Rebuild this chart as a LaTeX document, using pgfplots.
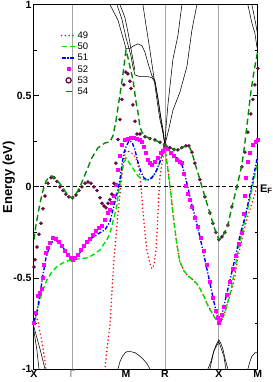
\documentclass[border=0pt]{standalone}
\usepackage{fontspec}
\setmainfont{Liberation Sans}
\usepackage{pgfplots}
\pgfplotsset{compat=1.18}
\definecolor{c49}{RGB}{255,0,0}
\definecolor{c50}{RGB}{0,225,0}
\definecolor{c51}{RGB}{0,0,255}
\definecolor{c52}{RGB}{255,0,255}
\definecolor{c53}{RGB}{103,7,72}
\definecolor{c54}{RGB}{0,139,0}
\definecolor{vline}{RGB}{165,165,165}
\definecolor{gamlab}{RGB}{120,120,120}
\begin{document}
\begin{tikzpicture}
\begin{axis}[name=ax, scale only axis, width=224pt, height=364.5pt,
 xmin=34, xmax=258, ymin=-1, ymax=1,
 axis line style={line width=1pt},
 xtick={34,72.5,126,165,219,258},
 xticklabels={\textbf{X},\textcolor{gamlab}{Γ},\textbf{M},\textbf{R},\textbf{X},\textbf{M}},
 x tick style={draw=none},
 ytick={-1,-0.5,0,0.5,1},
 yticklabels={\textbf{-1},\textbf{-0.5},\textbf{0},\textbf{0.5},\textbf{1}},
 minor ytick={-0.75,-0.25,0.25,0.75},
 tick align=inside, major tick length=5pt, minor tick length=3pt,
 y tick style={line width=0.7pt, black},
 ticklabel style={font=\fontsize{10.5}{12}\selectfont},
 xticklabel style={yshift=2pt},
 yticklabel style={xshift=1pt},
 ylabel={\textbf{Energy (eV)}},
 ylabel style={at={(axis description cs:-0.112,0.526)}, anchor=center, font=\fontsize{13}{15}\selectfont},
 legend style={at={(0.105,0.935)}, anchor=north west, draw=none, fill=none,
   font=\fontsize{9.5}{10}\selectfont, row sep=1.2pt,
   nodes={inner sep=1pt, text height=7pt, text depth=1pt}},
 legend cell align=left,
 legend image code/.code={\draw[mark repeat=2,mark phase=2,#1] plot coordinates {(0cm,0cm) (0.25cm,0cm) (0.5cm,0cm)};},
 clip mode=individual,
]
% k-path separators and Fermi level
\draw[vline, line width=0.8pt] (axis cs:72.5,-1) -- (axis cs:72.5,1);
\draw[vline, line width=0.8pt] (axis cs:165,-1) -- (axis cs:165,1);
\draw[vline, line width=0.8pt] (axis cs:219,-1) -- (axis cs:219,1);
\draw[black, line width=0.8pt, dash pattern=on 4pt off 2.5pt] (axis cs:34,0) -- (axis cs:258,0);

% other bands (black)
\addplot[black, line width=0.55pt, forget plot] coordinates {(110,1.0) (118,0.916) (124,0.80) (126,0.76) (130,0.76) (134,0.775) (138,0.785) (142,0.775) (145,0.74) (148,0.68) (152,0.61) (155,0.585) (158,0.49) (161,0.38) (163,0.32) (165,0.23)};
\addplot[black, line width=0.55pt, forget plot] coordinates {(117,1.0) (122,0.92) (126,0.82) (129,0.76) (131,0.72) (133,0.66) (135,0.615) (140,0.605) (148,0.605) (152,0.60) (155,0.575) (158,0.48) (161,0.37) (163,0.30) (165,0.23)};
\addplot[black, line width=0.55pt, forget plot] coordinates {(120,1.0) (125,0.93) (128,0.85) (131,0.76) (133,0.70) (135,0.64)};
\addplot[black, line width=0.55pt, forget plot] coordinates {(143,1.0) (146,0.89) (150,0.75) (154,0.60) (157,0.48) (160,0.37) (163,0.30) (165,0.23)};
\addplot[black, line width=0.55pt, forget plot] coordinates {(182,1.0) (178,0.83) (173,0.70) (170,0.55) (168,0.45) (166,0.32) (165,0.23)};
\addplot[black, line width=0.55pt, forget plot] coordinates {(197,1.0) (192,0.86) (187,0.66) (180,0.52) (173,0.42) (169,0.32) (165,0.23)};
\addplot[black, line width=0.55pt, forget plot] coordinates {(248,1.0) (252,0.90) (255,0.845) (257,0.77) (258,0.75)};
\addplot[black, line width=0.55pt, forget plot] coordinates {(252,1.0) (255,0.92) (257,0.86) (258,0.83)};
\addplot[black, line width=0.55pt, forget plot] coordinates {(34,-0.77) (40,-0.89) (45,-1.0)};
\addplot[black, line width=0.55pt, forget plot] coordinates {(34,-0.79) (37,-0.90) (39,-1.0)};
\addplot[black, line width=0.55pt, forget plot] coordinates {(118,-1.0) (120,-0.96) (122,-0.935) (125,-0.912) (127,-0.905) (131,-0.905) (135,-0.91) (139,-0.925) (143,-0.945) (147,-0.97) (150,-1.0)};
\addplot[black, line width=0.55pt, forget plot] coordinates {(208,-1.0) (211,-0.96) (213,-0.92) (216,-0.87) (219,-0.84) (221,-0.86) (223,-0.89) (225,-0.94) (228,-1.0)};
\addplot[black, line width=0.55pt, forget plot] coordinates {(210,-1.0) (214,-0.90) (219,-0.85) (224,-0.93) (226,-1.0)};
\addplot[black, line width=0.55pt, forget plot] coordinates {(248,-1.0) (250,-0.96) (252,-0.93) (255,-0.912) (258,-0.905)};

% band 49
\addplot[c49, line width=1.7pt, line cap=round, dash pattern=on 0pt off 3.8pt] coordinates {
(34,-0.69) (36,-0.71) (38,-0.74) (40,-0.80) (42,-0.85) (44,-0.92) (46,-1.0) (50,-1.15) (75,-1.3) (100,-1.15) (105,-1.0) (107,-0.89) (110,-0.76) (112,-0.58) (114,-0.39) (116,-0.28) (118,-0.15) (120,-0.04) (122,0.07) (124,0.15) (126,0.20) (131,0.19) (136,0.16) (139,0.10) (141,0.01) (143,-0.13) (145,-0.25) (147,-0.35) (150,-0.42) (152,-0.45) (154,-0.43) (156,-0.35) (157,-0.26) (158,-0.15) (159,-0.04) (160,0.05) (162,0.13) (165,0.22) (168,0.10) (171,-0.04) (174,-0.19) (177,-0.32) (180,-0.41) (184,-0.46) (188,-0.49) (193,-0.51) (198,-0.54) (203,-0.59) (208,-0.65) (213,-0.70) (217,-0.73) (219,-0.75) (223,-0.72) (227,-0.65) (232,-0.565) (235,-0.49) (238,-0.39) (242,-0.29) (245,-0.22) (248,-0.16) (252,-0.09) (256,-0.02) (258,0.02)};
\addlegendentry{49}
% band 50
\addplot[c50, line width=1.4pt, dash pattern=on 5pt off 3pt] coordinates {
(34,-0.74) (36,-0.71) (38,-0.66) (40,-0.62) (43,-0.565) (47,-0.51) (52,-0.466) (58,-0.433) (65,-0.411) (72.5,-0.40) (80,-0.395) (88,-0.389) (95,-0.367) (100,-0.346) (104,-0.313) (108,-0.28) (111,-0.236) (114,-0.170) (117,-0.099) (119,-0.016) (121,0.049) (123,0.110) (126,0.159) (130,0.126) (134,0.093) (138,0.060) (142,0.044) (146,0.038) (150,0.044) (154,0.066) (158,0.104) (162,0.170) (165,0.22) (168,0.093) (171,-0.044) (174,-0.192) (177,-0.318) (180,-0.411) (184,-0.461) (188,-0.488) (193,-0.510) (198,-0.538) (203,-0.587) (208,-0.653) (213,-0.702) (217,-0.735) (219,-0.752) (222,-0.730) (225,-0.691) (228,-0.631) (231,-0.565) (234,-0.483) (237,-0.389) (240,-0.302) (244,-0.208) (248,-0.115) (252,-0.016) (255,0.066) (258,0.148)};
\addlegendentry{50}
% band 51
\addplot[c51, line width=1.4pt, dash pattern=on 4pt off 1.8pt on 1.2pt off 1.8pt] coordinates {
(34,-0.741) (37,-0.686) (40,-0.592) (43,-0.483) (46,-0.389) (50,-0.318) (54,-0.291) (60,-0.307) (66,-0.357) (72.5,-0.40) (78,-0.378) (85,-0.318) (92,-0.280) (100,-0.252) (105,-0.236) (110,-0.192) (113,-0.126) (116,-0.060) (118,-0.016) (120,0.038) (122,0.121) (124,0.187) (126,0.219) (129,0.252) (132,0.247) (135,0.203) (138,0.137) (141,0.082) (144,0.049) (148,0.038) (152,0.049) (156,0.082) (160,0.137) (163,0.192) (165,0.225) (170,0.192) (175,0.170) (179,0.148) (182,0.121) (185,0.066) (188,-0.005) (192,-0.099) (196,-0.181) (200,-0.274) (205,-0.400) (210,-0.527) (214,-0.631) (217,-0.702) (219,-0.741) (222,-0.702) (225,-0.631) (229,-0.538) (233,-0.444) (237,-0.346) (241,-0.247) (245,-0.170) (249,-0.071) (252,0.011) (255,0.093) (258,0.176)};
\addlegendentry{51}
% band 52
\addplot[c52, only marks, mark=square*, mark size=1.5pt] coordinates {
(34,-0.746) (36,-0.69) (38,-0.60) (40,-0.58) (42,-0.56) (43,-0.50) (44,-0.43) (46,-0.36) (48,-0.335) (50,-0.307) (53,-0.280) (56,-0.285) (59,-0.30) (62,-0.324) (65,-0.351) (68,-0.373) (70.5,-0.389) (72.5,-0.40) (75,-0.39) (78,-0.373) (81,-0.346) (84,-0.324) (87,-0.302) (90,-0.285) (93,-0.263) (96,-0.241) (99,-0.225) (102,-0.214) (105,-0.181) (108,-0.143) (110,-0.126) (112,-0.088) (114,-0.05) (116,0.011) (118,0.093) (120,0.170) (122,0.230) (125,0.258) (128,0.263) (131,0.269) (134,0.269) (137,0.263) (140,0.258) (142,0.247) (144,0.22) (146,0.19) (148,0.15) (150,0.13) (152,0.12) (155,0.14) (158,0.16) (161,0.185) (163,0.20) (165,0.22) (168,0.21) (171,0.19) (174,0.17) (177,0.148) (180,0.14) (182,0.13) (184,0.07) (186,0.005) (188,-0.04) (190,-0.07) (192,-0.11) (195,-0.17) (198,-0.22) (201,-0.28) (204,-0.35) (207,-0.43) (210,-0.52) (213,-0.61) (216,-0.68) (218,-0.72) (219,-0.745) (220,-0.73) (222,-0.70) (224,-0.66) (227,-0.59) (230,-0.52) (233,-0.45) (236,-0.38) (239,-0.31) (242,-0.25) (244,-0.15) (245,-0.05) (246,0.05) (248,0.137) (250,0.19) (253,0.23) (256,0.25) (258,0.26)};
\addlegendentry{52}
% band 53
\addplot[c53, only marks, mark=*, mark size=1.6pt, legend image code/.code={\draw[c53, line width=1.3pt, fill=white] (0.25cm,0cm) circle (2.6pt);}] coordinates {
(34,-0.44) (35,-0.40) (37,-0.33) (39,-0.26) (41,-0.20) (43,-0.12) (45,-0.05) (48,0.02) (51,0.05) (54,0.05) (57,0.03) (60,0.00) (63,-0.02) (66,-0.04) (69,-0.055) (72.5,-0.06) (76,-0.045) (79,-0.02) (82,0.00) (85,0.02) (88,0.027) (91,0.02) (94,0.00) (97,-0.02) (100,-0.06) (102,-0.09) (104,-0.105) (106,-0.115) (108,-0.09) (110,-0.07) (112,-0.04) (114,0.02) (116,0.13) (118,0.26) (120,0.37) (122,0.48) (124,0.56) (126,0.63) (128,0.62) (130,0.58) (131,0.54) (133,0.45) (135,0.36) (137,0.29) (140,0.29) (145,0.275) (150,0.265) (155,0.258) (160,0.245) (165,0.23) (170,0.215) (174,0.205) (178,0.203) (182,0.215) (186,0.225) (189,0.225) (192,0.19) (195,0.13) (200,0.04) (205,-0.055) (210,-0.143) (213,-0.2) (216,-0.25) (219,-0.29) (222,-0.275) (225,-0.25) (228,-0.21) (232,-0.11) (237,0.0) (242,0.11) (245,0.19) (248,0.30) (251,0.40) (253,0.48) (255,0.56) (258,0.65)};
\addlegendentry{53}
% band 54
\addplot[c54, line width=1.4pt, dash pattern=on 6pt off 3.5pt, legend image code/.code={\draw[c54, line width=1.6pt] (0.15cm,0cm) -- (0.45cm,0cm);}] coordinates {
(34,-0.29) (36,-0.21) (38,-0.15) (40,-0.09) (43,-0.02) (46,0.03) (49,0.055) (52,0.06) (55,0.05) (58,0.03) (61,0.01) (64,-0.015) (67,-0.04) (70,-0.055) (72.5,-0.06) (75,-0.05) (78,-0.02) (80,0.0) (85,0.066) (92,0.16) (98,0.214) (105,0.241) (110,0.247) (113,0.28) (116,0.36) (119,0.47) (122,0.58) (124,0.66) (126,0.75) (128,0.71) (130,0.66) (133,0.59) (136,0.47) (138,0.41) (140,0.33) (142,0.30) (145,0.28) (150,0.265) (155,0.255) (160,0.245) (165,0.23) (170,0.215) (174,0.205) (178,0.203) (182,0.215) (186,0.225) (189,0.225) (192,0.19) (195,0.13) (200,0.04) (205,-0.055) (210,-0.143) (213,-0.2) (216,-0.25) (219,-0.29) (222,-0.275) (225,-0.25) (228,-0.21) (232,-0.11) (237,0.0) (242,0.12) (245,0.24) (248,0.38) (251,0.52) (254,0.63) (258,0.75)};
\addlegendentry{54}
\node[anchor=base west, font=\fontsize{11}{12}\selectfont\bfseries, inner sep=0pt, xshift=2pt] at (axis cs:258,-0.03) {E\textsubscript{F}};
\end{axis}
\pgfresetboundingbox
\path[use as bounding box] ([shift={(-34pt,-13pt)}]ax.south west) rectangle ([shift={(15pt,4.7pt)}]ax.north east);
\end{tikzpicture}
\end{document}
